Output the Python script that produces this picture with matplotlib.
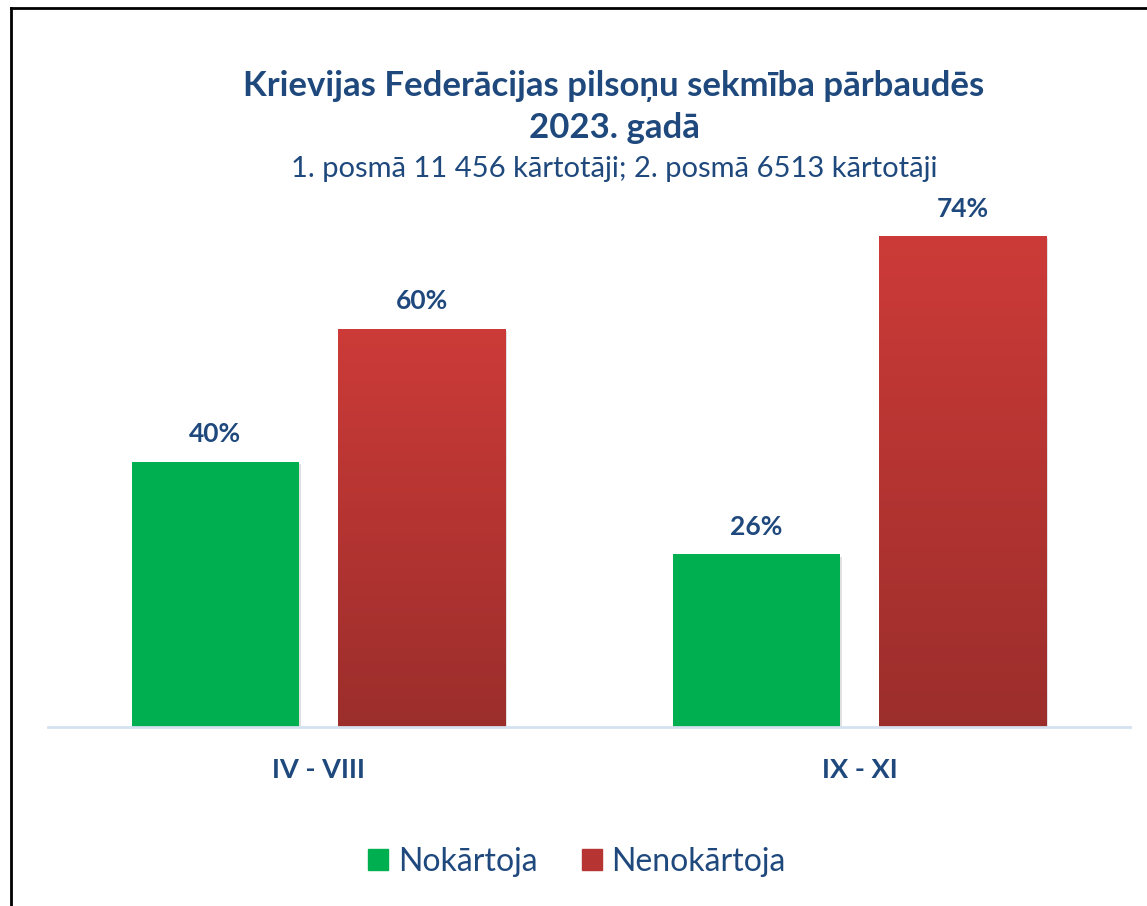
import matplotlib.pyplot as plt
import numpy as np
from matplotlib import patheffects as pe
from matplotlib.lines import Line2D
from matplotlib.patches import Patch

plt.rcParams["font.family"] = ["Lato", "DejaVu Sans"]

categories = ["IV - VIII", "IX - XI"]
passed = [40, 26]
failed = [60, 74]
series_names = ["Nokārtoja", "Nenokārtoja"]

title = "Krievijas Federācijas pilsoņu sekmība pārbaudēs\n2023. gadā"
subtitle = "1. posmā 11 456 kārtotāji; 2. posmā 6513 kārtotāji"

navy = "#1f497d"
green = "#00b050"
red_top = np.array([0.80, 0.23, 0.22])
red_bottom = np.array([0.61, 0.18, 0.17])

W, H = 1147, 906
fig = plt.figure(figsize=(W / 100, H / 100), dpi=100)
ax = fig.add_axes([48 / W, 1 - 727 / H, (1130 - 48) / W, (727 - 196) / H])

x = np.arange(len(categories))
width = 0.309
offset = 0.191
shadow = [pe.SimplePatchShadow(offset=(1.5, -1.5), shadow_rgbFace="#999999", alpha=0.3), pe.Normal()]

gbars = ax.bar(x - offset, passed, width, color=green, zorder=3, path_effects=shadow)
rbars = ax.bar(x + offset, failed, width, color="none", zorder=3, path_effects=shadow)

# vertical gradient inside the red bars
grad = np.linspace(0, 1, 256)[:, None, None]
img = red_top * (1 - grad) + red_bottom * grad
for b in rbars:
    x0, w, h = b.get_x(), b.get_width(), b.get_height()
    im = ax.imshow(img, extent=[x0, x0 + w, 0, h], aspect="auto", zorder=3.5)
    im.set_clip_path(b)

for bars, vals in ((gbars, passed), (rbars, failed)):
    for b, v in zip(bars, vals):
        ax.annotate(f"{v}%", (b.get_x() + b.get_width() / 2, v), xytext=(0, 11),
                    textcoords="offset points", ha="center", va="bottom",
                    fontsize=19, fontweight="bold", color=navy)

ax.set_xlim(-0.5, 1.5)
ax.set_ylim(0, 80)
ax.set_xticks(x, categories)
ax.tick_params(axis="x", length=0, pad=22, labelsize=19.5, labelcolor=navy)
for lab in ax.get_xticklabels():
    lab.set_fontweight("bold")
ax.set_yticks([])
for s in ("left", "right", "top"):
    ax.spines[s].set_visible(False)
ax.spines["bottom"].set_color("#d5e1f0")
ax.spines["bottom"].set_linewidth(2)
ax.spines["bottom"].set_zorder(4)

fig.text(614 / W, 1 - 107 / H, title, ha="center", va="center", fontsize=25,
         fontweight="bold", color=navy, linespacing=1.35)
fig.text(614 / W, 1 - 169 / H, subtitle, ha="center", va="center", fontsize=21,
         color=navy)

handles = [Patch(color=green), Patch(color=tuple(red_top * 0.55 + red_bottom * 0.45))]
fig.legend(handles, series_names, loc="center", bbox_to_anchor=(577 / W, 1 - 862 / H),
           ncol=2, frameon=False, fontsize=23, labelcolor=navy, handlelength=0.62,
           handleheight=0.62, handletextpad=0.3, columnspacing=1.4)

# frame around the picture (left and top edges only visible)
fig.add_artist(Line2D([10.5 / W, 10.5 / W], [0, 1 - 8 / H], color="black", lw=2,
                      transform=fig.transFigure))
fig.add_artist(Line2D([10.5 / W, 1], [1 - 8 / H, 1 - 8 / H], color="black", lw=2,
                      transform=fig.transFigure))

fig.savefig("out.png", dpi=100, facecolor="white")
